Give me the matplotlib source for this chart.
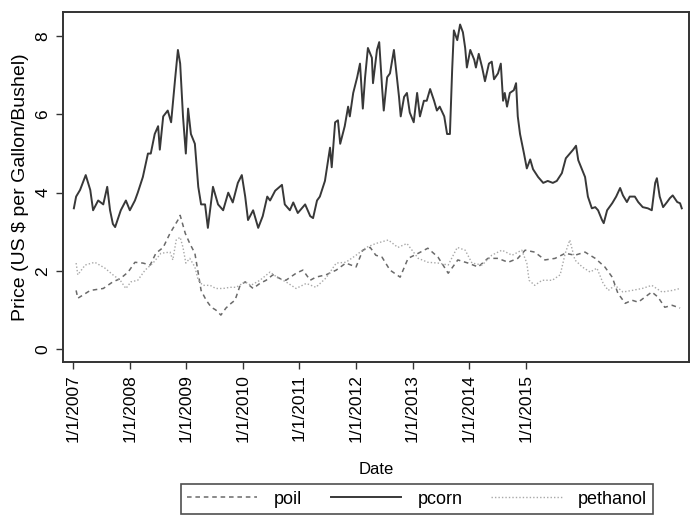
import matplotlib
matplotlib.use("Agg")
import matplotlib.pyplot as plt

plt.rcParams['font.family'] = ['Liberation Sans', 'DejaVu Sans']

# (decimal position on the date axis, price)
poil = [
    (2007.05, 1.5), (2007.08, 1.3), (2007.30, 1.5), (2007.53, 1.55), (2007.70, 1.72),
    (2007.83, 1.8), (2007.97, 1.97), (2008.09, 2.22), (2008.23, 2.2), (2008.36, 2.15),
    (2008.46, 2.45), (2008.59, 2.6), (2008.71, 2.96), (2008.85, 3.3), (2008.89, 3.42),
    (2008.98, 2.96), (2009.06, 2.7), (2009.15, 2.45), (2009.21, 1.94), (2009.26, 1.5),
    (2009.35, 1.25), (2009.44, 1.07), (2009.52, 1.0), (2009.61, 0.87), (2009.70, 1.05),
    (2009.79, 1.17), (2009.86, 1.25), (2009.95, 1.63), (2010.04, 1.72), (2010.18, 1.55),
    (2010.30, 1.68), (2010.41, 1.76), (2010.53, 1.9), (2010.66, 1.8), (2010.76, 1.76),
    (2010.94, 1.94), (2011.06, 2.02), (2011.19, 1.76), (2011.29, 1.84), (2011.47, 1.9),
    (2011.65, 2.02), (2011.82, 2.2), (2012.00, 2.1), (2012.12, 2.53), (2012.25, 2.6),
    (2012.35, 2.4), (2012.46, 2.35), (2012.60, 2.02), (2012.78, 1.84), (2012.92, 2.32),
    (2013.10, 2.45), (2013.27, 2.58), (2013.45, 2.35), (2013.63, 1.94), (2013.80, 2.28),
    (2013.98, 2.2), (2014.16, 2.1), (2014.33, 2.32), (2014.51, 2.32), (2014.69, 2.22),
    (2014.86, 2.32), (2014.99, 2.53), (2015.16, 2.48), (2015.34, 2.28), (2015.52, 2.32),
    (2015.70, 2.45), (2015.87, 2.4), (2016.05, 2.48), (2016.23, 2.32), (2016.40, 2.1),
    (2016.53, 1.84), (2016.63, 1.43), (2016.76, 1.17), (2016.88, 1.25), (2016.99, 1.2),
    (2017.11, 1.33), (2017.23, 1.46), (2017.34, 1.33), (2017.46, 1.07), (2017.59, 1.12),
    (2017.73, 1.05),
]

pcorn = [
    (2007.01, 3.6), (2007.05, 3.9), (2007.12, 4.07), (2007.22, 4.45), (2007.30, 4.07),
    (2007.35, 3.55), (2007.44, 3.8), (2007.53, 3.7), (2007.60, 4.15), (2007.65, 3.55),
    (2007.70, 3.2), (2007.74, 3.12), (2007.84, 3.55), (2007.93, 3.8), (2008.00, 3.55),
    (2008.09, 3.8), (2008.14, 4.0), (2008.23, 4.4), (2008.32, 5.0), (2008.37, 5.0),
    (2008.44, 5.5), (2008.50, 5.7), (2008.53, 5.1), (2008.59, 5.95), (2008.67, 6.1),
    (2008.73, 5.8), (2008.80, 6.9), (2008.85, 7.65), (2008.89, 7.3), (2008.94, 5.95),
    (2008.99, 5.0), (2009.03, 6.15), (2009.08, 5.5), (2009.15, 5.25), (2009.21, 4.15),
    (2009.26, 3.7), (2009.33, 3.7), (2009.38, 3.1), (2009.47, 4.15), (2009.56, 3.7),
    (2009.65, 3.55), (2009.74, 4.0), (2009.82, 3.75), (2009.91, 4.25), (2009.98, 4.45),
    (2010.04, 3.9), (2010.09, 3.3), (2010.18, 3.55), (2010.27, 3.1), (2010.35, 3.4),
    (2010.43, 3.9), (2010.48, 3.8), (2010.57, 4.05), (2010.69, 4.2), (2010.74, 3.7),
    (2010.83, 3.55), (2010.89, 3.75), (2010.97, 3.48), (2011.10, 3.7), (2011.19, 3.4),
    (2011.24, 3.35), (2011.31, 3.8), (2011.36, 3.9), (2011.45, 4.3), (2011.54, 5.15),
    (2011.57, 4.65), (2011.63, 5.8), (2011.68, 5.85), (2011.72, 5.25), (2011.80, 5.7),
    (2011.86, 6.2), (2011.89, 5.95), (2011.95, 6.55), (2012.02, 6.95), (2012.07, 7.3),
    (2012.12, 6.15), (2012.16, 6.95), (2012.21, 7.7), (2012.28, 7.45), (2012.30, 6.8),
    (2012.37, 7.65), (2012.41, 7.85), (2012.46, 6.7), (2012.49, 6.1), (2012.55, 6.95),
    (2012.60, 7.05), (2012.67, 7.65), (2012.76, 6.45), (2012.79, 5.95), (2012.85, 6.45),
    (2012.90, 6.55), (2012.95, 6.05), (2013.02, 5.8), (2013.08, 6.55), (2013.13, 5.95),
    (2013.20, 6.35), (2013.25, 6.35), (2013.31, 6.65), (2013.38, 6.35), (2013.43, 6.1),
    (2013.48, 6.2), (2013.56, 5.95), (2013.61, 5.5), (2013.66, 5.5), (2013.70, 7.15),
    (2013.73, 8.15), (2013.79, 7.9), (2013.84, 8.3), (2013.89, 8.1), (2013.93, 7.7),
    (2013.96, 7.2), (2014.02, 7.65), (2014.09, 7.4), (2014.12, 7.2), (2014.17, 7.55),
    (2014.23, 7.2), (2014.28, 6.85), (2014.35, 7.3), (2014.40, 7.35), (2014.44, 6.9),
    (2014.51, 7.05), (2014.56, 7.3), (2014.60, 6.35), (2014.63, 6.55), (2014.67, 6.2),
    (2014.72, 6.55), (2014.79, 6.62), (2014.83, 6.8), (2014.86, 5.95), (2014.90, 5.5),
    (2014.97, 5.0), (2015.02, 4.62), (2015.08, 4.85), (2015.13, 4.6), (2015.22, 4.4),
    (2015.31, 4.25), (2015.39, 4.3), (2015.48, 4.25), (2015.55, 4.3), (2015.64, 4.5),
    (2015.71, 4.88), (2015.78, 5.0), (2015.84, 5.1), (2015.89, 5.2), (2015.93, 4.83),
    (2016.00, 4.58), (2016.05, 4.4), (2016.10, 3.9), (2016.17, 3.6), (2016.23, 3.63),
    (2016.28, 3.55), (2016.35, 3.3), (2016.38, 3.22), (2016.44, 3.55), (2016.53, 3.73),
    (2016.60, 3.9), (2016.67, 4.12), (2016.72, 3.93), (2016.79, 3.76), (2016.84, 3.9),
    (2016.93, 3.9), (2016.99, 3.76), (2017.07, 3.63), (2017.16, 3.6), (2017.23, 3.55),
    (2017.29, 4.25), (2017.32, 4.37), (2017.37, 3.9), (2017.43, 3.63), (2017.50, 3.76),
    (2017.55, 3.86), (2017.60, 3.93), (2017.68, 3.76), (2017.73, 3.73), (2017.76, 3.6),
]

pethanol = [
    (2007.05, 2.2), (2007.08, 1.9), (2007.21, 2.15), (2007.38, 2.22), (2007.56, 2.07),
    (2007.70, 1.9), (2007.83, 1.76), (2007.93, 1.55), (2008.02, 1.72), (2008.14, 1.76),
    (2008.27, 2.02), (2008.41, 2.2), (2008.55, 2.45), (2008.71, 2.48), (2008.76, 2.28),
    (2008.82, 2.79), (2008.89, 2.86), (2008.94, 2.6), (2008.99, 2.2), (2009.06, 2.32),
    (2009.15, 2.1), (2009.21, 1.76), (2009.29, 1.63), (2009.42, 1.63), (2009.52, 1.55),
    (2009.65, 1.55), (2009.77, 1.58), (2009.88, 1.58), (2010.04, 1.72), (2010.14, 1.63),
    (2010.30, 1.76), (2010.48, 1.97), (2010.62, 1.82), (2010.76, 1.72), (2010.94, 1.55),
    (2011.12, 1.68), (2011.29, 1.58), (2011.47, 1.82), (2011.65, 2.2), (2011.82, 2.22),
    (2012.00, 2.4), (2012.18, 2.6), (2012.35, 2.7), (2012.57, 2.79), (2012.74, 2.6),
    (2012.90, 2.7), (2013.10, 2.32), (2013.27, 2.22), (2013.45, 2.2), (2013.63, 2.15),
    (2013.79, 2.6), (2013.93, 2.53), (2014.05, 2.2), (2014.23, 2.15), (2014.40, 2.4),
    (2014.58, 2.53), (2014.76, 2.4), (2014.93, 2.53), (2015.02, 2.2), (2015.06, 1.76),
    (2015.16, 1.63), (2015.29, 1.76), (2015.47, 1.76), (2015.61, 1.9), (2015.70, 2.45),
    (2015.78, 2.79), (2015.87, 2.28), (2016.00, 2.1), (2016.14, 1.97), (2016.26, 2.07),
    (2016.37, 1.68), (2016.46, 1.5), (2016.58, 1.63), (2016.72, 1.46), (2016.88, 1.5),
    (2017.06, 1.55), (2017.23, 1.63), (2017.41, 1.46), (2017.59, 1.5), (2017.73, 1.55),
]

tick_pos = [2007, 2008, 2009, 2010, 2011, 2012, 2013, 2014, 2015]
tick_lab = ["1/1/2007", "1/1/2008", "1/1/2009", "1/1/2010", "1/1/2011",
            "1/1/2012", "1/1/2013", "1/1/2014", "1/1/2015"]
ytick_pos = [0, 2, 4, 6, 8]

fig = plt.figure(figsize=(6.94, 5.20), dpi=100)
ax = fig.add_axes([63 / 694, 1 - 362 / 520, 626 / 694, 350 / 520])

x, y = zip(*poil)
ax.plot(x, y, color="#6a6a6a", lw=1.1, linestyle=(0, (3, 2.5)), label="poil")
x, y = zip(*pcorn)
ax.plot(x, y, color="#383838", lw=1.4, label="pcorn")
x, y = zip(*pethanol)
ax.plot(x, y, color="#a8a8a8", lw=1.0, linestyle=(0, (1, 1.5)), label="pethanol")

ax.set_xlim(2006.818, 2017.888)
ax.set_ylim(-0.33, 8.62)
ax.set_xticks(tick_pos)
ax.set_xticklabels(tick_lab, rotation=90, fontsize=12.5)
ax.set_yticks(ytick_pos)
ax.set_yticklabels([str(v) for v in ytick_pos], rotation=90, va="center", fontsize=12.5)
ax.tick_params(direction="out", length=5, width=1, color="#333333", pad=4)
for s in ax.spines.values():
    s.set_color("#333333")
    s.set_linewidth(1.4)

ax.set_xlabel("Date", fontsize=12, labelpad=14)
ax.set_ylabel("Price (US $ per Gallon/Bushel)", fontsize=14, labelpad=5)

leg = fig.legend(loc="center", bbox_to_anchor=(417 / 694, 1 - 499 / 520), ncol=3,
                 fontsize=13, frameon=True, fancybox=False, handlelength=3.9,
                 handletextpad=0.9, columnspacing=1.6, borderpad=0.35)
leg.get_frame().set_edgecolor("#222222")
leg.get_frame().set_linewidth(1.2)

fig.savefig("out.png", dpi=100)
